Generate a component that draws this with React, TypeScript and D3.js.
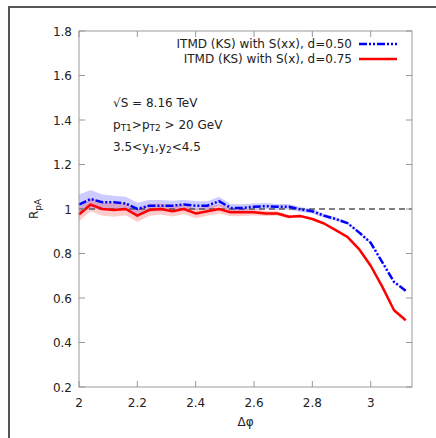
import React from "react";
import * as d3 from "d3";

const phi = [2.0, 2.04, 2.08, 2.12, 2.16, 2.2, 2.24, 2.28, 2.32, 2.36, 2.4, 2.44, 2.48, 2.52, 2.56, 2.6, 2.64, 2.68, 2.72, 2.76, 2.8, 2.84, 2.88, 2.92, 2.96, 3.0, 3.04, 3.08, 3.12];
const blueVals = [1.02, 1.045, 1.03, 1.03, 1.025, 1.0, 1.015, 1.015, 1.015, 1.02, 1.015, 1.015, 1.035, 1.005, 1.005, 1.01, 1.013, 1.01, 1.01, 0.998, 0.99, 0.97, 0.955, 0.937, 0.895, 0.848, 0.76, 0.672, 0.633];
const blueErr = [0.045, 0.04, 0.035, 0.03, 0.03, 0.028, 0.025, 0.025, 0.022, 0.022, 0.02, 0.02, 0.02, 0.018, 0.016, 0.015, 0.014, 0.013, 0.012, 0.011, 0.01, 0.009, 0.008, 0.006, 0.005, 0.004, 0.003, 0.002, 0.002];
const redVals = [0.975, 1.02, 1.0, 0.995, 1.0, 0.97, 0.995, 1.0, 0.99, 1.0, 0.98, 0.99, 1.0, 0.985, 0.985, 0.985, 0.98, 0.98, 0.965, 0.968, 0.955, 0.935, 0.905, 0.875, 0.82, 0.745, 0.65, 0.545, 0.5];
const redErr = [0.03, 0.03, 0.03, 0.03, 0.028, 0.028, 0.026, 0.025, 0.024, 0.022, 0.022, 0.02, 0.02, 0.018, 0.016, 0.014, 0.012, 0.01, 0.008, 0.006, 0.004, 0.003, 0.002, 0.002, 0.002, 0.002, 0.002, 0.002, 0.002];
const xTicks = [2, 2.2, 2.4, 2.6, 2.8, 3];
const yTicks = [0.2, 0.4, 0.6, 0.8, 1, 1.2, 1.4, 1.6, 1.8];
const legendLabels = ["ITMD (KS) with S(xx), d=0.50", "ITMD (KS) with S(x), d=0.75"];

const W = 436, H = 438;
const L = 79, R = 412, T = 31, B = 387;
const font = "DejaVu Sans, Verdana, sans-serif";

export default function App() {
  const x = d3.scaleLinear().domain([2, Math.PI]).range([L, R]);
  const y = d3.scaleLinear().domain([0.2, 1.8]).range([B, T]);
  const line = d3.line<number>().x((_, i) => x(phi[i])).y((v) => y(v));
  const band = (vals: number[], err: number[]) =>
    d3.area<number>().x((_, i) => x(phi[i])).y0((v, i) => y(v - err[i])).y1((v, i) => y(v + err[i]))(vals) || "";
  const fmt = (v: number) => String(+v.toFixed(1));
  return (
    <svg width={W} height={H} style={{ position: "absolute", left: 0, top: 0, background: "#fff" }} fontFamily={font}>
      <rect x={0} y={0} width={W} height={H} fill="#fff" />
      <path d={`M9,${H} V7 H${W}`} fill="none" stroke="#555" strokeWidth={2} />
      <path d={band(blueVals, blueErr)} fill="rgba(0,0,255,0.2)" />
      <path d={band(redVals, redErr)} fill="rgba(255,0,0,0.2)" />
      <line x1={L} x2={R} y1={y(1)} y2={y(1)} stroke="#555" strokeWidth={1.5} strokeDasharray="6,4" />
      <path d={line(redVals) || ""} fill="none" stroke="#ff0000" strokeWidth={2.5} strokeLinejoin="round" />
      <path d={line(blueVals) || ""} fill="none" stroke="#0000ff" strokeWidth={2.5} strokeDasharray="8,2,2,2,2,2" />
      <rect x={L} y={T} width={R - L} height={B - T} fill="none" stroke="#999" strokeWidth={1} />
      {xTicks.map((t) => (
        <g key={"x" + t}>
          <line x1={x(t)} x2={x(t)} y1={B} y2={B - 6} stroke="#999" />
          <line x1={x(t)} x2={x(t)} y1={T} y2={T + 6} stroke="#999" />
          <text x={x(t)} y={407} fontSize={12} textAnchor="middle" fill="#222">{fmt(t)}</text>
        </g>
      ))}
      {yTicks.map((t) => (
        <g key={"y" + t}>
          <line x1={L} x2={L + 6} y1={y(t)} y2={y(t)} stroke="#999" />
          <line x1={R} x2={R - 6} y1={y(t)} y2={y(t)} stroke="#999" />
          <text x={72} y={y(t) + 4.5} fontSize={12} textAnchor="end" fill="#222">{fmt(t)}</text>
        </g>
      ))}
      <text x={x((2 + Math.PI) / 2)} y={426} fontSize={12} textAnchor="middle" fill="#222">Δφ</text>
      <text transform={`translate(38,${y(1)}) rotate(-90)`} fontSize={12} textAnchor="middle" fill="#222">
        R<tspan fontSize={9} dy={3}>pA</tspan>
      </text>
      {legendLabels.map((lab, i) => (
        <g key={lab}>
          <text x={352} y={48 + i * 15} fontSize={12} textAnchor="end" fill="#222">{lab}</text>
          <line x1={359} x2={397} y1={44 + i * 15} y2={44 + i * 15}
            stroke={i === 0 ? "#0000ff" : "#ff0000"} strokeWidth={2.5}
            strokeDasharray={i === 0 ? "8,2,2,2,2,2" : undefined} />
        </g>
      ))}
      <text x={113} y={107} fontSize={12} fill="#222">√S = 8.16 TeV</text>
      <text x={113} y={129} fontSize={12} fill="#222">
        p<tspan fontSize={9} dy={2}>T1</tspan><tspan dy={-2}>&gt;p</tspan><tspan fontSize={9} dy={2}>T2</tspan><tspan dy={-2}> &gt; 20 GeV</tspan>
      </text>
      <text x={113} y={151} fontSize={12} fill="#222">
        3.5&lt;y<tspan fontSize={9} dy={2}>1</tspan><tspan dy={-2}>,y</tspan><tspan fontSize={9} dy={2}>2</tspan><tspan dy={-2}>&lt;4.5</tspan>
      </text>
    </svg>
  );
}
